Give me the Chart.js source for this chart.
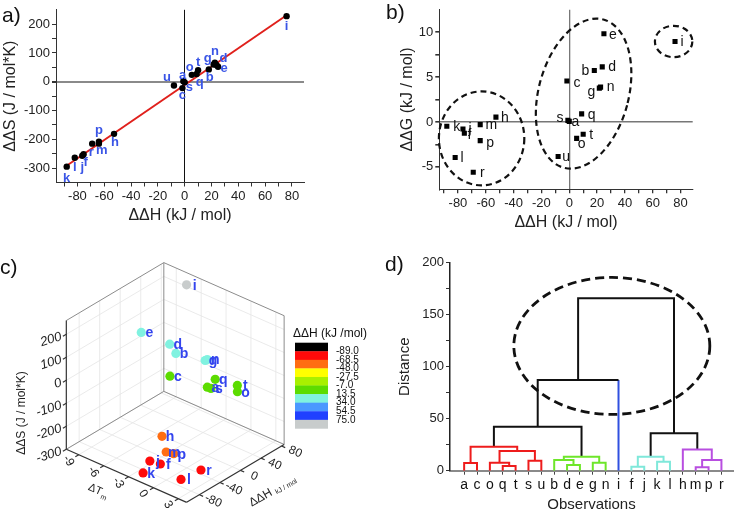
<!DOCTYPE html>
<html>
<head>
<meta charset="utf-8">
<title>Thermodynamic parameters</title>
<script src="https://cdn.jsdelivr.net/npm/chart.js@4.4.1/dist/chart.umd.min.js"></script>
<style>
  body { margin: 0; background: #fff; }
  #page { position: relative; width: 736px; height: 514px; overflow: hidden; font-family: Arial, "Liberation Sans", sans-serif; }
  #page canvas { position: absolute; }
  .tag { position: absolute; font-size: 21px; line-height: 1; color: #111; }
</style>
</head>
<body>
<div id="page">
  <canvas id="chartA" width="368" height="240" style="left:0;top:0"></canvas>
  <canvas id="chartB" width="368" height="240" style="left:368px;top:0"></canvas>
  <canvas id="chartC" width="368" height="264" style="left:0;top:250px"></canvas>
  <canvas id="chartD" width="368" height="264" style="left:368px;top:250px"></canvas>
  <div class="tag" style="left:2px;top:4px">a)</div>
  <div class="tag" style="left:386px;top:1px">b)</div>
  <div class="tag" style="left:0;top:256px">c)</div>
  <div class="tag" style="left:385px;top:253px">d)</div>
</div>
<script>
const FONT = 'Arial, "Liberation Sans", sans-serif';
Chart.defaults.font.family = FONT;
Chart.defaults.color = "#222";

// compounds a..u
const names = ["a","b","c","d","e","f","g","h","i","j","k","l","m","n","o","p","q","r","s","t","u"];
const dH = [0, 18, -1.7, 23.7, 24.9, -75.4, 21.6, -52.7, 76, -76.4, -88, -82, -64, 22.5, 5.3, -64, 8.9, -69, -1, 10, -8];
const dS = [-2, 43, -22, 58, 52, -252, 60, -181, 228, -257, -295, -264, -215, 66, 24, -208, 27, -215, 2, 40, -13];
const dG = [0.07, 5.74, 4.56, 6.14, 9.83, -1.26, 3.77, 0.54, 8.97, -0.79, -0.47, -3.95, -0.29, 3.88, -1.83, -2.08, 0.9, -5.6, 0.18, -1.36, -3.84];
const dT = [0.0, -4.9, -4.4, -6.0, -9.5, -1.0, -1.6, -2.2, -7.2, -2.2, -2.3, 1.9, -1.0, -1.4, 3.3, -0.1, 0.4, 3.5, 0.5, 3.0, null];

// panel a
const fitX = [-90, 76];
const fitY = [-298, 231];
const aXMajor = [-80, -60, -40, -20, 0, 20, 40, 60, 80];
const aXMinor = [-90, -70, -50, -30, -10, 10, 30, 50, 70];
const aYMajor = [-300, -200, -100, 0, 100, 200];
const aYMinor = [-250, -150, -50, 50, 150];

// panel b
const bXMajor = [-80, -60, -40, -20, 0, 20, 40, 60, 80];
const bXMinor = [-90, -70, -50, -30, -10, 10, 30, 50, 70];
const bYMajor = [-5, 0, 5, 10];
const bYMinor = [-2.5, 2.5, 7.5];

// panel c
const cT = [-10.5, 4], cH = [-105, 85], cS = [-300, 260];
const cTTicks = [-9, -6, -3, 0, 3];
const cHTicks = [-80, -40, 0, 40, 80];
const cSTicks = [-300, -200, -100, 0, 100, 200];
const bandEdges = [-89, -68.5, -48, -27.5, -7, 13.5, 34, 54.5, 75];
const bandLabels = ["-89.0", "-68.5", "-48.0", "-27.5", "-7.0", "13.5", "34.0", "54.5", "75.0"];
const bandColors = ["#000000", "#ff0a0a", "#ff6d12", "#ffff00", "#a8f000", "#5cdc00", "#80f2e0", "#4b98ff", "#2040ff", "#c8cccc"];

// panel d
const leafOrder = ["a","c","o","q","t","s","u","b","d","e","g","n","i","f","j","k","l","h","m","p","r"];
// [child, child, height]; numbers point to earlier merges
const merges = [
  ["a", "c", 7.5], ["q", "t", 4.5], ["o", 1, 7.7], ["s", "u", 9.6], [2, 3, 18.9], [0, 4, 23],
  ["d", "e", 5.4], ["b", 6, 10.3], ["g", "n", 7.7], [7, 8, 13.5], [5, 9, 42.3], [10, "i", 87.2],
  ["f", "j", 3.8], ["k", "l", 8.7], [12, 13, 13.5], ["m", "p", 3.2], [15, "r", 10.3], ["h", 16, 20.5],
  [14, 17, 35.9], [11, 18, 165.7]
];
const dYMajor = [0, 50, 100, 150, 200];
const dYMinor = [25, 75, 125, 175];

// styles
const RED = "#ee1c1c", GREEN = "#6ee62a", CYAN = "#7fe8da", PURPLE = "#b84ee0", BLACK = "#111";
const mergeColors = [RED, RED, RED, RED, RED, RED, GREEN, GREEN, GREEN, GREEN, BLACK, BLACK,
  CYAN, CYAN, CYAN, PURPLE, PURPLE, PURPLE, BLACK, BLACK];
const legColors = { i: "#3050e0" };
const aOff = [[-2,-7],[1,8],[0,7],[7,-7],[6,2],[2,8],[-6,-6],[1,9],[0,10],[0,12],[0,12],[0,10],[3,7],[0,-11],[-2,-7],[0,-11],[3,8],[-1,9],[6,6],[0,-8],[-7,-8]];
const bOff = [[6,1],[-9,1],[10,2],[10,0],[9,1],[5,2],[-8,4],[9,1],[7,1],[7,0],[10,1],[7,1],[11,1],[10,0],[5,6],[10,2],[10,1],[9,1],[-8,-2],[8,1],[8,1]];

function tickList(a, b) {
  return a.concat(b).sort((p, q) => p - q).map(v => ({ value: v }));
}

function letterLabels(text, offsets, font, color) {
  return {
    id: "letterLabels",
    afterDatasetsDraw(chart) {
      const meta = chart.getDatasetMeta(0);
      const ctx = chart.ctx;
      ctx.save();
      ctx.font = font;
      ctx.fillStyle = color;
      ctx.textAlign = "center";
      ctx.textBaseline = "middle";
      meta.data.forEach((el, i) => {
        const off = offsets[i];
        ctx.fillText(text[i], el.x + off[0], el.y + off[1]);
      });
      ctx.restore();
    }
  };
}

function dashedEllipses(items, width, dash) {
  return {
    id: "dashedEllipses",
    afterDatasetsDraw(chart) {
      const ctx = chart.ctx, xs = chart.scales.x, ys = chart.scales.y;
      ctx.save();
      ctx.strokeStyle = "#111";
      ctx.lineWidth = width;
      ctx.setLineDash(dash);
      items.forEach(e => {
        ctx.beginPath();
        ctx.ellipse(xs.getPixelForValue(e.cx), ys.getPixelForValue(e.cy), e.rx, e.ry, e.rot || 0, 0, Math.PI * 2);
        ctx.stroke();
      });
      ctx.restore();
    }
  };
}

const base = {
  responsive: false,
  animation: false,
  devicePixelRatio: 1,
  events: [],
  plugins: { legend: { display: false }, tooltip: { enabled: false } }
};

// ---------- a) dS vs dH ----------
new Chart(document.getElementById("chartA"), {
  type: "scatter",
  data: {
    datasets: [
      { data: dH.map((h, i) => ({ x: h, y: dS[i] })), pointRadius: 3.2, backgroundColor: "#000", borderWidth: 0, order: 0 },
      { type: "line", data: fitX.map((x, i) => ({ x: x, y: fitY[i] })), borderColor: "#e0201c", borderWidth: 2, pointRadius: 0, order: 1 }
    ]
  },
  options: {
    ...base,
    layout: { padding: { top: 1, right: 64, bottom: 0, left: 0 } },
    scales: {
      x: {
        type: "linear", min: -96, max: 89,
        afterBuildTicks: s => { s.ticks = tickList(aXMajor, aXMinor); },
        afterFit: s => { s.height = 57.5; },
        border: { color: "#333", width: 1 },
        grid: {
          color: c => (c.tick && c.tick.value === 0 ? "#111" : "rgba(0,0,0,0)"),
          tickColor: "#333", tickLength: 4
        },
        ticks: { font: { size: 13 }, padding: 2, maxRotation: 0, autoSkip: false,
          callback: v => (aXMajor.includes(v) ? String(v) : "") },
        title: { display: true, text: "ΔΔH (kJ / mol)", font: { size: 16 }, padding: { top: 0, bottom: 15 } }
      },
      y: {
        type: "linear", min: -350, max: 250,
        afterBuildTicks: s => { s.ticks = tickList(aYMajor, aYMinor); },
        afterFit: s => { s.width = 56; },
        border: { color: "#333", width: 1 },
        grid: {
          color: c => (c.tick && c.tick.value === 0 ? "#8a8a8a" : "rgba(0,0,0,0)"),
          lineWidth: c => (c.tick && c.tick.value === 0 ? 2 : 1),
          tickColor: "#333", tickLength: 4
        },
        ticks: { font: { size: 13 }, padding: 2, autoSkip: false,
          callback: v => (aYMajor.includes(v) ? String(v) : "") },
        title: { display: true, text: "ΔΔS (J / mol*K)", font: { size: 16 }, padding: { top: 1.4, bottom: 0 } }
      }
    }
  },
  plugins: [letterLabels(names, aOff, "bold 13px " + FONT, "#3a55e6")]
});

// ---------- b) dG vs dH ----------
new Chart(document.getElementById("chartB"), {
  type: "scatter",
  data: {
    datasets: [
      { data: dH.map((h, i) => ({ x: h, y: dG[i] })), pointStyle: "rect", pointRadius: 3.6, backgroundColor: "#000", borderWidth: 0 }
    ]
  },
  options: {
    ...base,
    layout: { padding: { top: 3.3, right: 43.3, bottom: 0, left: 0 } },
    scales: {
      x: {
        type: "linear", min: -93.4, max: 88.7,
        afterBuildTicks: s => { s.ticks = tickList(bXMajor, bXMinor); },
        afterFit: s => { s.height = 50.7; },
        border: { color: "#333", width: 1 },
        grid: {
          color: c => (c.tick && c.tick.value === 0 ? "#777" : "rgba(0,0,0,0)"),
          lineWidth: 1.3, tickColor: "#333", tickLength: 4
        },
        ticks: { font: { size: 13 }, padding: 2, maxRotation: 0, autoSkip: false,
          callback: v => (bXMajor.includes(v) ? String(v) : "") },
        title: { display: true, text: "ΔΔH (kJ / mol)", font: { size: 16 }, padding: { top: 0, bottom: 7.4 } }
      },
      y: {
        type: "linear", min: -7.5, max: 12.5,
        afterBuildTicks: s => { s.ticks = tickList(bYMajor, bYMinor); },
        afterFit: s => { s.width = 71.3; },
        border: { color: "#333", width: 1 },
        grid: {
          color: c => (c.tick && c.tick.value === 0 ? "#777" : "rgba(0,0,0,0)"),
          lineWidth: 1.6, tickColor: "#333", tickLength: 4
        },
        ticks: { font: { size: 13 }, padding: 2, autoSkip: false,
          callback: v => (bYMajor.includes(v) ? String(v) : "") },
        title: { display: true, text: "ΔΔG (kJ / mol)", font: { size: 16 }, padding: { top: 30.4, bottom: 0 } }
      }
    }
  },
  plugins: [
    letterLabels(names, bOff, "14px " + FONT, "#111"),
    dashedEllipses([
      { cx: -63, cy: -1.83, rx: 42.7, ry: 47 },
      { cx: 10.3, cy: 3.16, rx: 45, ry: 76.7, rot: 0.26 },
      { cx: 75, cy: 8.97, rx: 18.7, ry: 15.7 }
    ], 2.2, [6, 4])
  ]
});

// ---------- c) 3D scatter ----------
// box corner at (Tmax, Hmin, Smin) and the three edge vectors, in view units
const view = { fx: 186.7, fy: 256.7, hx: 100, hy: -60, tx: -123.4, ty: -55, sy: -133.4 };
function proj(t, h, s) {
  const ht = (h - cH[0]) / (cH[1] - cH[0]);
  const tt = (cT[1] - t) / (cT[1] - cT[0]);
  const st = (s - cS[0]) / (cS[1] - cS[0]);
  return { x: view.fx + ht * view.hx + tt * view.tx, y: view.fy + ht * view.hy + tt * view.ty + st * view.sy };
}
function bandColor(v) {
  let k = 0;
  bandEdges.forEach(e => { if (v >= e) k++; });
  return bandColors[k];
}
const cIdx = names.map((n, i) => i).filter(i => dT[i] !== null)
  .sort((p, q) => (dT[p] - dT[q]) || (dH[q] - dH[p]));

function seg(ctx, a, b) {
  ctx.beginPath(); ctx.moveTo(a[0], a[1]); ctx.lineTo(b[0], b[1]); ctx.stroke();
}
function rotText(ctx, txt, x, y, ang, align) {
  ctx.save(); ctx.translate(x, y); ctx.rotate(ang);
  ctx.textAlign = align || "center"; ctx.textBaseline = "middle";
  ctx.fillText(txt, 0, 0); ctx.restore();
}

const box3d = {
  id: "box3d",
  beforeDatasetsDraw(chart) {
    const ctx = chart.ctx, xs = chart.scales.x, ys = chart.scales.y;
    const P = (t, h, s) => { const q = proj(t, h, s); return [xs.getPixelForValue(q.x), ys.getPixelForValue(q.y)]; };
    const [t0, t1] = cT, [h0, h1] = cH, [s0, s1] = cS;
    ctx.save();
    // faint grid on walls and floor
    ctx.strokeStyle = "#e4e4e4"; ctx.lineWidth = 0.8;
    cHTicks.forEach(h => { seg(ctx, P(t0, h, s0), P(t0, h, s1)); seg(ctx, P(t0, h, s0), P(t1, h, s0)); });
    cSTicks.forEach(s => { seg(ctx, P(t0, h0, s), P(t0, h1, s)); seg(ctx, P(t0, h1, s), P(t1, h1, s)); });
    cTTicks.forEach(t => { seg(ctx, P(t, h1, s0), P(t, h1, s1)); seg(ctx, P(t, h0, s0), P(t, h1, s0)); });
    // box edges
    ctx.strokeStyle = "#8c8c8c"; ctx.lineWidth = 1;
    seg(ctx, P(t0, h0, s1), P(t0, h1, s1));
    seg(ctx, P(t0, h1, s1), P(t1, h1, s1));
    seg(ctx, P(t1, h1, s1), P(t1, h1, s0));
    seg(ctx, P(t0, h1, s1), P(t0, h1, s0));
    seg(ctx, P(t0, h1, s0), P(t0, h0, s0));
    seg(ctx, P(t0, h1, s0), P(t1, h1, s0));
    // axes
    ctx.strokeStyle = "#333"; ctx.lineWidth = 1.2;
    seg(ctx, P(t0, h0, s0), P(t0, h0, s1));
    seg(ctx, P(t0, h0, s0), P(t1, h0, s0));
    seg(ctx, P(t1, h0, s0), P(t1, h1, s0));
    const unit = (a, b) => { const dx = b[0] - a[0], dy = b[1] - a[1], l = Math.hypot(dx, dy); return [dx / l, dy / l]; };
    const outH = unit(P(t0, h1, s0), P(t0, h0, s0));   // away from box along -H
    const outT = unit(P(t0, h0, s0), P(t1, h0, s0));   // away from box along +T
    ctx.fillStyle = "#222";
    ctx.font = "italic 13px " + FONT;
    cSTicks.forEach(s => {
      const p = P(t0, h0, s);
      seg(ctx, p, [p[0] + outH[0] * 4, p[1] + outH[1] * 4]);
      rotText(ctx, String(s), p[0] - 5, p[1] + 2, -0.3, "right");
    });
    ctx.font = "12px " + FONT;
    cTTicks.forEach(t => {
      const p = P(t, h0, s0);
      seg(ctx, p, [p[0] + outH[0] * 4, p[1] + outH[1] * 4]);
      rotText(ctx, String(t), p[0] + outH[0] * 12, p[1] + outH[1] * 12, 1.0);
    });
    cHTicks.forEach(h => {
      const p = P(t1, h, s0);
      seg(ctx, p, [p[0] + outT[0] * 4, p[1] + outT[1] * 4]);
      rotText(ctx, String(h), p[0] + outT[0] * 15, p[1] + outT[1] * 15, 0.42);
    });
    // axis titles
    ctx.font = "12px " + FONT;
    rotText(ctx, "ΔΔS (J / mol*K)", 22, 163 - 0, -Math.PI / 2);
    ctx.save(); ctx.translate(96, 240); ctx.rotate(0.42);
    ctx.textBaseline = "middle"; ctx.textAlign = "left";
    ctx.font = "11px " + FONT; ctx.fillText("ΔT", -8, 0);
    ctx.font = "7px " + FONT; ctx.fillText("m", 7, 4);
    ctx.restore();
    ctx.save(); ctx.translate(250, 254); ctx.rotate(-0.52);
    ctx.textBaseline = "middle"; ctx.textAlign = "left";
    ctx.font = "12px " + FONT; ctx.fillText("ΔΔH", 0, 0);
    ctx.font = "7px " + FONT; ctx.fillText("kJ / mol", 28, 3);
    ctx.restore();
    ctx.restore();
  },
  afterDatasetsDraw(chart) {
    const ctx = chart.ctx, meta = chart.getDatasetMeta(0);
    ctx.save();
    ctx.font = "bold 14px " + FONT; ctx.fillStyle = "#3344ee";
    ctx.textAlign = "center"; ctx.textBaseline = "middle";
    meta.data.forEach((el, k) => { ctx.fillText(names[cIdx[k]], el.x + 8, el.y + 1); });
    // colour bar
    const x0 = 295, y0 = 92.7, w = 33, bh = 8.57;
    bandColors.forEach((c, k) => { ctx.fillStyle = c; ctx.fillRect(x0, y0 + k * bh, w, bh + 0.3); });
    ctx.fillStyle = "#111"; ctx.font = "12px " + FONT; ctx.textAlign = "center";
    ctx.fillText("ΔΔH (kJ /mol)", 330, 84);
    ctx.font = "10px " + FONT; ctx.textAlign = "left";
    bandLabels.forEach((t, k) => { ctx.fillText(t, 336, y0 + (k + 1) * bh); });
    ctx.restore();
  }
};

new Chart(document.getElementById("chartC"), {
  type: "scatter",
  data: {
    datasets: [{
      data: cIdx.map(i => proj(dT[i], dH[i], dS[i])),
      backgroundColor: cIdx.map(i => bandColor(dH[i])),
      pointRadius: 4.6, borderWidth: 0
    }]
  },
  options: {
    ...base,
    layout: { padding: 0 },
    scales: {
      x: { type: "linear", display: false, min: 0, max: 368 },
      y: { type: "linear", display: false, min: 0, max: 264, reverse: true }
    }
  },
  plugins: [box3d]
});

// ---------- d) dendrogram ----------
const nodeX = [], nodeH = [];
function childPos(c) {
  return typeof c === "string" ? { x: leafOrder.indexOf(c), h: 0 } : { x: nodeX[c], h: nodeH[c] };
}
const dendroSets = [];
merges.forEach((m, k) => {
  const A = childPos(m[0]), B = childPos(m[1]), h = m[2];
  nodeX[k] = (A.x + B.x) / 2;
  nodeH[k] = h;
  const legB = legColors[m[1]];
  const pts = [{ x: A.x, y: A.h }, { x: A.x, y: h }, { x: B.x, y: h }];
  if (!legB) pts.push({ x: B.x, y: B.h });
  dendroSets.push({ type: "line", data: pts, borderColor: mergeColors[k], borderWidth: 2, pointRadius: 0, tension: 0, fill: false });
  if (legB) {
    dendroSets.push({ type: "line", data: [{ x: B.x, y: h }, { x: B.x, y: B.h }], borderColor: legB, borderWidth: 2, pointRadius: 0, fill: false });
  }
});

new Chart(document.getElementById("chartD"), {
  type: "scatter",
  data: { datasets: dendroSets },
  options: {
    ...base,
    layout: { padding: { top: 12.7, right: 3, bottom: 0, left: 0 } },
    scales: {
      x: {
        type: "linear", min: -1.1, max: 20.9,
        afterBuildTicks: s => { s.ticks = leafOrder.map((n, i) => ({ value: i })); },
        afterFit: s => { s.height = 43.3; },
        border: { color: "#8a8a8a", width: 2 },
        grid: { drawOnChartArea: false, tickColor: "#444", tickLength: 4 },
        ticks: { font: { size: 14 }, color: "#111", padding: 2, maxRotation: 0, autoSkip: false,
          callback: v => leafOrder[v] },
        title: { display: true, text: "Observations", font: { size: 15 }, padding: { top: 0, bottom: 0 } }
      },
      y: {
        type: "linear", min: 0, max: 200,
        afterBuildTicks: s => { s.ticks = tickList(dYMajor, dYMinor); },
        afterFit: s => { s.width = 82; },
        border: { color: "#222", width: 1.5 },
        grid: { drawOnChartArea: false, tickColor: "#333", tickLength: 4 },
        ticks: { font: { size: 13 }, padding: 2, autoSkip: false,
          callback: v => (dYMajor.includes(v) ? String(v) : "") },
        title: { display: true, text: "Distance", font: { size: 15 }, padding: { top: 28, bottom: 0 } }
      }
    }
  },
  plugins: [dashedEllipses([{ cx: 11.48, cy: 120, rx: 98, ry: 68.5 }], 2.8, [9, 5])]
});
</script>
</body>
</html>
